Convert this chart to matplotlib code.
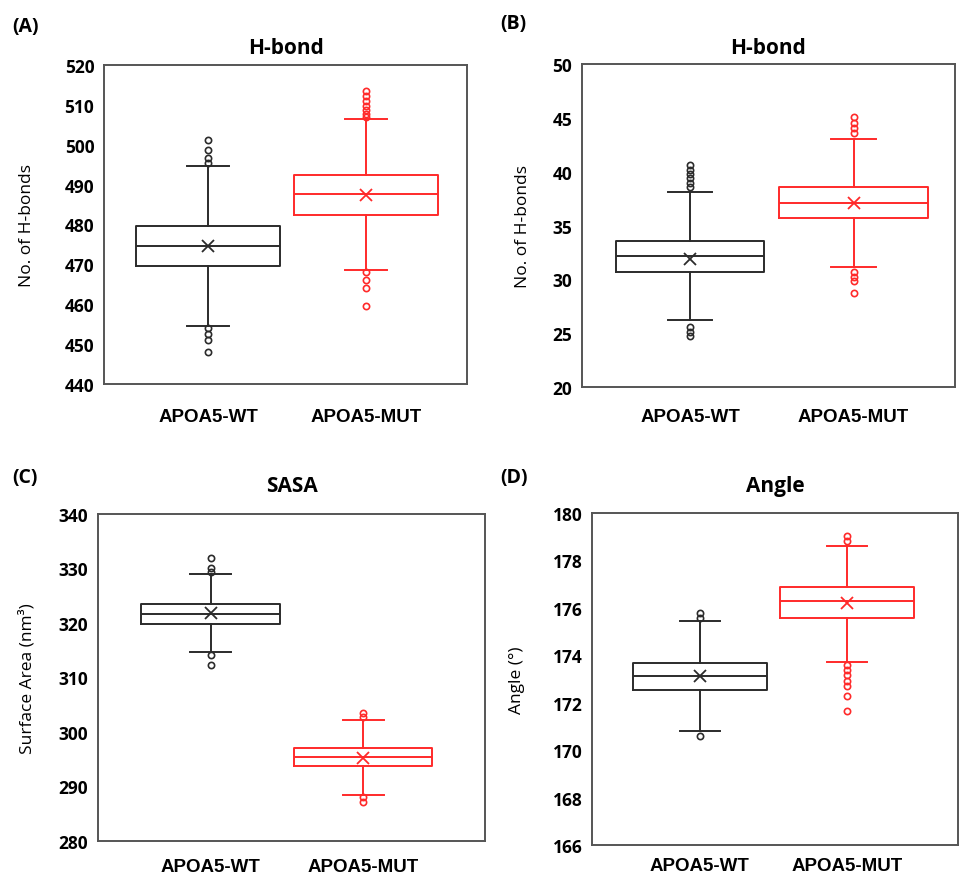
import matplotlib
matplotlib.use("Agg")
import matplotlib.pyplot as plt

groups = ["APOA5-WT", "APOA5-MUT"]

# Panel A: H-bond (protein)
a_q1 = [469.7, 482.5]
a_med = [474.7, 487.6]
a_q3 = [479.6, 492.3]
a_wlo = [454.5, 468.6]
a_whi = [494.7, 506.4]
a_mean = [474.5, 487.5]
a_fliers_wt = [501.2, 498.7, 496.8, 495.3, 454.0, 452.5, 451.0, 448.0]
a_fliers_mut = [513.5, 512.2, 511.0, 509.8, 508.6, 507.6, 506.9, 468.0, 466.1, 464.0, 459.5]

# Panel B: H-bond
b_q1 = [30.66, 35.67]
b_med = [32.14, 37.07]
b_q3 = [33.6, 38.55]
b_wlo = [26.2, 31.15]
b_whi = [38.08, 43.04]
b_mean = [31.9, 37.1]
b_fliers_wt = [40.6, 40.2, 39.8, 39.4, 38.95, 38.55, 25.6, 25.1, 24.7]
b_fliers_mut = [45.05, 44.55, 44.06, 43.56, 30.7, 30.25, 29.8, 28.7]

# Panel C: SASA
c_q1 = [319.84, 293.7]
c_med = [321.56, 295.45]
c_q3 = [323.46, 297.1]
c_wlo = [314.7, 288.5]
c_whi = [328.9, 302.26]
c_mean = [321.8, 295.3]
c_fliers_wt = [332.0, 330.1, 329.4, 314.1, 312.3]
c_fliers_mut = [303.5, 302.7, 288.0, 287.1]

# Panel D: Angle
d_q1 = [172.53, 175.58]
d_med = [173.12, 176.27]
d_q3 = [173.68, 176.86]
d_wlo = [170.8, 173.71]
d_whi = [175.46, 178.61]
d_mean = [173.14, 176.2]
d_fliers_wt = [175.77, 175.56, 170.6]
d_fliers_mut = [179.04, 178.83, 173.6, 173.38, 173.15, 172.92, 172.7, 172.28, 171.66]

colors = ["#2b2b2b", "#ff2a2a"]

fig = plt.figure(figsize=(9.61, 8.79), dpi=100)
W, H = 961.0, 879.0


def add_ax(l, r, t, b):
    return fig.add_axes([l / W, 1 - b / H, (r - l) / W, (b - t) / H])


panels = [
    dict(box=(104, 467, 66, 385), q1=a_q1, med=a_med, q3=a_q3, wlo=a_wlo, whi=a_whi, mean=a_mean,
         fl=[a_fliers_wt, a_fliers_mut], ylim=(440, 520), ticks=range(440, 521, 10),
         title="H-bond", ylabel="No. of H-bonds", tag="(A)", tagxy=(12, 27), xlim=(0.34, 2.64),
         titley=48, xpad=17, ylx=27),
    dict(box=(582, 955, 65, 388), q1=b_q1, med=b_med, q3=b_q3, wlo=b_wlo, whi=b_whi, mean=b_mean,
         fl=[b_fliers_wt, b_fliers_mut], ylim=(20, 50), ticks=range(20, 51, 5),
         title="H-bond", ylabel="No. of H-bonds", tag="(B)", tagxy=(500, 24), xlim=(0.34, 2.62),
         titley=48, xpad=15, ylx=523),
    dict(box=(98, 485, 515, 842), q1=c_q1, med=c_med, q3=c_q3, wlo=c_wlo, whi=c_whi, mean=c_mean,
         fl=[c_fliers_wt, c_fliers_mut], ylim=(280, 340), ticks=range(280, 341, 10),
         title="SASA", ylabel="Surface Area (nm\u00b3)", tag="(C)", tagxy=(12, 478), xlim=(0.26, 2.8),
         titley=487, xpad=12, ylx=27),
    dict(box=(592, 958, 514, 846), q1=d_q1, med=d_med, q3=d_q3, wlo=d_wlo, whi=d_whi, mean=d_mean,
         fl=[d_fliers_wt, d_fliers_mut], ylim=(166, 180), ticks=range(166, 181, 2),
         title="Angle", ylabel="Angle (\u00b0)", tag="(D)", tagxy=(500, 478), xlim=(0.27, 2.75),
         titley=487, xpad=9, ylx=517),
]

for p in panels:
    l, r, t, b = p["box"]
    ax = add_ax(l, r, t, b)
    for i in range(2):
        st = dict(med=p["med"][i], q1=p["q1"][i], q3=p["q3"][i], whislo=p["wlo"][i],
                  whishi=p["whi"][i], mean=p["mean"][i], fliers=p["fl"][i], label=groups[i])
        c = colors[i]
        ax.bxp([st], positions=[i + 1], widths=0.91, showmeans=True, meanline=False,
               patch_artist=False, capwidths=0.27,
               boxprops=dict(color=c, linewidth=1.4),
               medianprops=dict(color=c, linewidth=1.4),
               whiskerprops=dict(color=c, linewidth=1.4),
               capprops=dict(color=c, linewidth=1.4),
               meanprops=dict(marker="x", markeredgecolor=c, markersize=9, markeredgewidth=1.3),
               flierprops=dict(marker="o", markerfacecolor="none", markeredgecolor=c,
                               markersize=4.5, markeredgewidth=1.2))
    ax.set_xlim(*p["xlim"])
    ax.set_ylim(*p["ylim"])
    ax.set_yticks(list(p["ticks"]))
    ax.set_yticklabels([str(v) for v in p["ticks"]], fontfamily="Open Sans",
                       fontweight="bold", fontsize=12.5)
    ax.set_xticks([1, 2])
    ax.set_xticklabels(groups, fontfamily="Liberation Sans", fontweight="bold", fontsize=13.5)
    ax.tick_params(axis="both", length=0)
    ax.tick_params(axis="y", pad=7)
    ax.tick_params(axis="x", pad=p["xpad"])
    for s in ax.spines.values():
        s.set_color("#555555")
        s.set_linewidth(1.4)
    fig.text(p["ylx"] / W, 1 - (t + b) / 2 / H, p["ylabel"], rotation=90, ha="center",
             va="center", fontfamily="Open Sans", fontsize=12.5)
    fig.text((l + r) / 2 / W, 1 - p["titley"] / H, p["title"], ha="center", va="center",
             fontfamily="Open Sans", fontweight="bold", fontsize=15)
    fig.text(p["tagxy"][0] / W, 1 - p["tagxy"][1] / H, p["tag"], ha="left", va="center",
             fontfamily="Open Sans", fontweight="bold", fontsize=14)

fig.savefig("out.png", dpi=100)
